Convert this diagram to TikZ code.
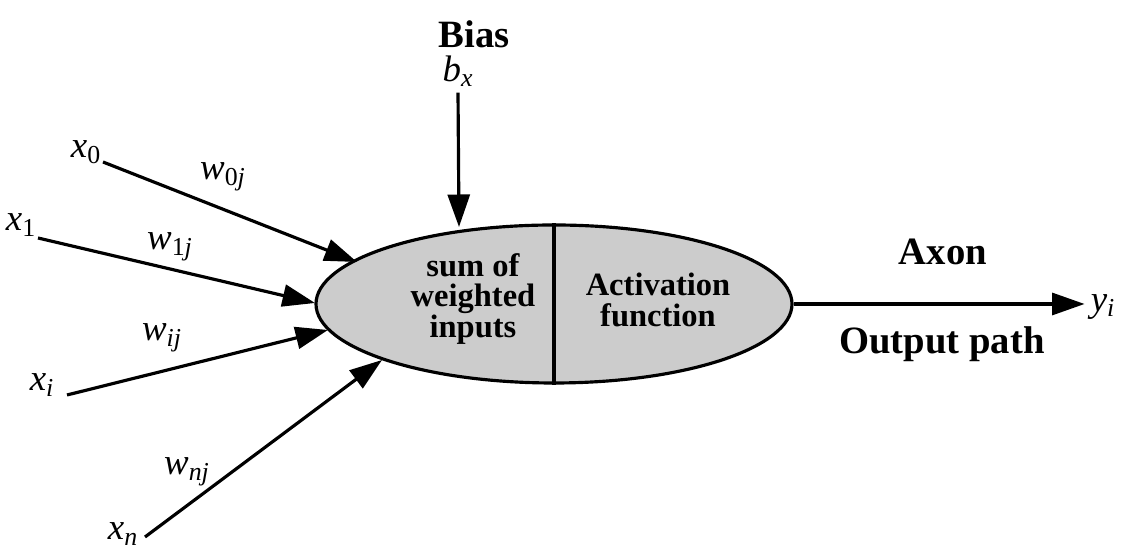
\documentclass[tikz,border=0pt]{standalone}
\usepackage{fontspec}
\setmainfont{Liberation Serif}
\usepackage{tikz}
\usetikzlibrary{arrows.meta, positioning, shapes.geometric}
\newcommand{\sig}[2]{\textit{#1}\textsubscript{#2}}

\begin{document}
\begin{tikzpicture}[
      every node/.style={font=\fontsize{21}{24}\selectfont},
      lbl/.style={font=\fontsize{22}{24}\selectfont\bfseries},
      inner/.style={font=\fontsize{18.5}{17.5}\selectfont\bfseries, align=center},
      neuron/.style={draw, ellipse, line width=1.8pt, fill=gray!40,
                     minimum width=9.52cm, minimum height=3.16cm, inner sep=0pt},
      ar/.style={-{Triangle[length=0.65cm, width=0.44cm]}, line width=1.8pt}
    ]
      \useasboundingbox (0,0) rectangle (22.46,11.04);

      % cell body
      \node[neuron] (cell) at (11.08,4.96) {};
      \draw[line width=1.8pt] (cell.north) -- (cell.south);
      \node[inner] (sum) at (9.46,5.06)  {sum of\\weighted\\inputs};
      \node[inner] (act) at (13.16,5.04) {Activation\\function};

      % bias
      \node[lbl] (bias) at (9.48,10.36) {Bias};
      \node (bx) at (9.16,9.62) {\sig{b}{\textit{x}}};
      \coordinate (tb) at (9.18,6.50);
      \draw[ar] (bx.south) -- (tb);

      % inputs
      \node (x0) at (1.72,8.0)  {\sig{x}{0}};
      \node (x1) at (0.42,6.54) {\sig{x}{1}};
      \node (xi) at (0.84,3.34) {\sig{x}{\textit{i}}};
      \node (xn) at (2.46,0.36) {\sig{x}{\textit{n}}};
      \coordinate (s0) at (2.06,7.80);
      \coordinate (s1) at (0.76,6.28);
      \coordinate (si) at (1.34,3.14);
      \coordinate (sn) at (2.90,0.30);
      \coordinate (t0) at (7.14,5.80);
      \coordinate (t1) at (6.30,4.98);
      \coordinate (ti) at (6.56,4.44);
      \coordinate (tn) at (7.64,3.84);
      \draw[ar] (s0) -- (t0);
      \draw[ar] (s1) -- (t1);
      \draw[ar] (si) -- (ti);
      \draw[ar] (sn) -- (tn);

      % weights
      \node (w0) at (4.46,7.50) {\sig{w}{0\textit{j}}};
      \node (w1) at (3.40,6.10) {\sig{w}{1\textit{j}}};
      \node (wi) at (3.24,4.28) {\sig{w}{\textit{ij}}};
      \node (wn) at (3.74,1.60) {\sig{w}{\textit{nj}}};

      % output
      \node (y) at (22.06,4.90) {\sig{y}{\textit{i}}};
      \draw[ar] (cell.east) -- (cell.east -| y.west);
      \node[lbl] (axon) at (18.86,6.0) {Axon};
      \node[lbl] (path) at (18.84,4.16) {Output path};
    \end{tikzpicture}
\end{document}
